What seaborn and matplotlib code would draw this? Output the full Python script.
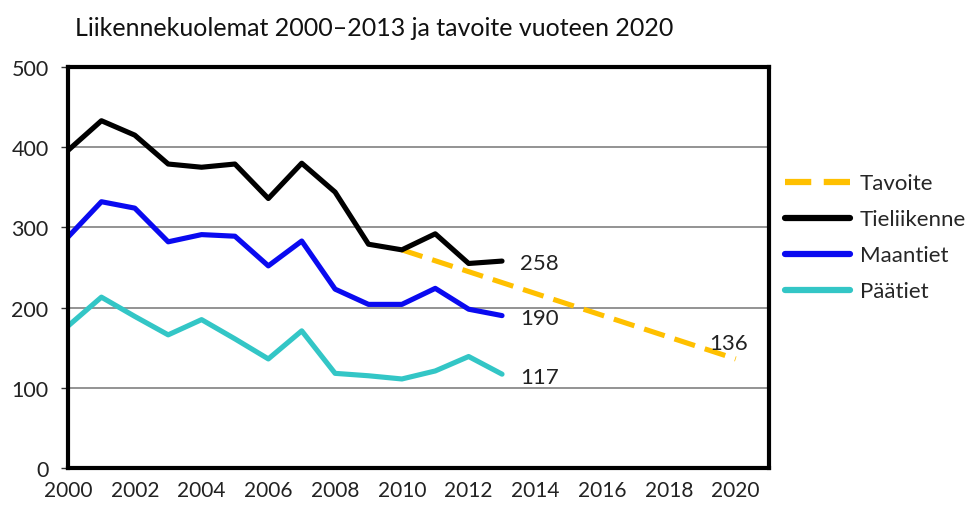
import numpy as np
import pandas as pd
import matplotlib
matplotlib.use("Agg")
import matplotlib.pyplot as plt
import seaborn as sns

years = list(range(2000, 2014))
tieliikenne = [396, 433, 415, 379, 375, 379, 336, 380, 344, 279, 272, 292, 255, 258]
maantiet = [288, 332, 324, 282, 291, 289, 252, 283, 223, 204, 204, 224, 198, 190]
paatiet = [177, 213, 189, 166, 185, 161, 136, 171, 118, 115, 111, 121, 139, 117]
tavoite_years = [2010, 2020]
tavoite = [272, 136]

series_names = ["Tavoite", "Tieliikenne", "Maantiet", "Päätiet"]
colors = {"Tavoite": "#FFC000", "Tieliikenne": "#000000",
          "Maantiet": "#0A0AF0", "Päätiet": "#33C6C6"}

title = "Liikennekuolemat 2000–2013 ja tavoite vuoteen 2020"

sns.set_style("white")
plt.rcParams['font.family'] = ['Lato', 'DejaVu Sans']

rows = []
for y, v in zip(tavoite_years, tavoite):
    rows.append(("Tavoite", y, v))
for name, vals in [("Tieliikenne", tieliikenne), ("Maantiet", maantiet), ("Päätiet", paatiet)]:
    for y, v in zip(years, vals):
        rows.append((name, y, v))
df = pd.DataFrame(rows, columns=["sarja", "vuosi", "arvo"])

fig = plt.figure(figsize=(9.65, 5.1), dpi=100)
ax = fig.add_axes([0.0705, 0.0804, 0.7265, 0.7863])

sns.lineplot(data=df, x="vuosi", y="arvo", hue="sarja", hue_order=series_names,
             palette=colors, style="sarja", style_order=series_names,
             dashes={"Tavoite": (4.2, 2.0), "Tieliikenne": "", "Maantiet": "", "Päätiet": ""},
             linewidth=3.7, ax=ax, legend=True)

ax.set_xlim(2000, 2021)
ax.set_ylim(0, 500)
ax.set_yticks([0, 100, 200, 300, 400, 500])
ax.set_xticks(list(range(2000, 2022)))
ax.set_xticklabels([str(y) if y % 2 == 0 else "" for y in range(2000, 2022)])
ax.grid(axis="y", color="#808080", linewidth=1.2)
ax.grid(axis="x", visible=False)
ax.set_xlabel("")
ax.set_ylabel("")
for s in ax.spines.values():
    s.set_color("black")
    s.set_linewidth(3)
ax.tick_params(axis="x", direction="out", length=5, width=1, color="#333333",
               labelsize=15, pad=4, labelcolor="#222222")
ax.tick_params(axis="y", direction="out", left=True, length=5, width=1, color="#333333",
               labelsize=15.5, pad=9, labelcolor="#222222")

# end labels
for vals in [tieliikenne, maantiet, paatiet]:
    ax.text(years[-1] + 0.55, vals[-1] - 3, str(vals[-1]), fontsize=16, color="#222222",
            va="center", ha="left")
ax.text(tavoite_years[-1] - 0.8, tavoite[-1] + 20, str(tavoite[-1]), fontsize=16,
        color="#222222", va="center", ha="left")

handles, labels = ax.get_legend_handles_labels()
leg = ax.legend(handles, labels, loc="center left", bbox_to_anchor=(1.023, 0.575),
                frameon=False, fontsize=16, handlelength=2.9, labelspacing=0.72,
                handletextpad=0.45, borderaxespad=0, borderpad=0)
for line in leg.get_lines():
    line.set_linewidth(4.5)

fig.text(0.078, 0.945, title, fontsize=18, color="#111111", ha="left", va="center")

fig.savefig("out.png", dpi=100)
